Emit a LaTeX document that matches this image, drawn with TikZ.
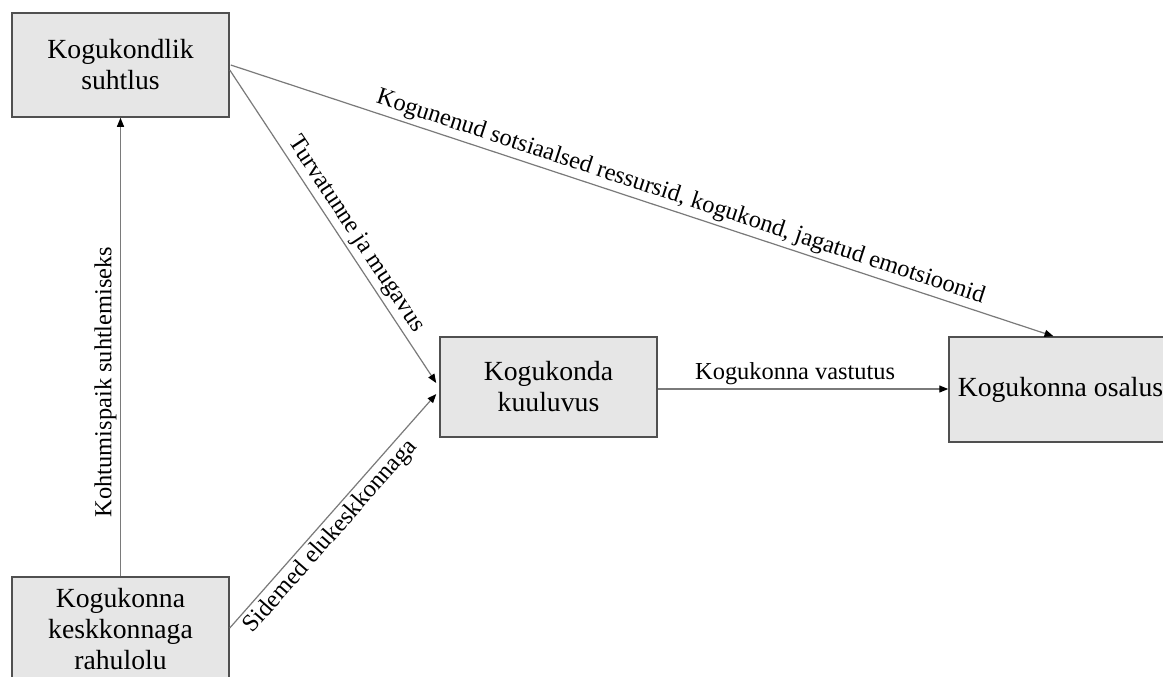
\documentclass[tikz,border=0pt]{standalone}
\usepackage{fontspec}
\setmainfont{Liberation Serif}
\usetikzlibrary{arrows.meta,calc}
\definecolor{boxfill}{HTML}{E6E6E6}
\definecolor{boxline}{HTML}{505050}
\definecolor{conn}{HTML}{7A7A7A}
\tikzset{
  box/.style={draw=boxline, line width=1.5pt, fill=boxfill, align=center,
    font=\fontsize{27.7}{31}\selectfont, inner sep=0pt},
  conarrow/.style={draw=conn, line width=1.2pt,
    -{Triangle[length=9pt,width=7pt,color=black]}},
  lbl/.style={font=\fontsize{24.4}{28}\selectfont, sloped, text=black}
}
\begin{document}
\begin{tikzpicture}[x=1pt,y=-1pt]
\clip (0,0) rectangle (1163,677);
\fill[white] (0,0) rectangle (1163,677);
% boxes
\node[box, minimum width=217pt, minimum height=104pt] (A) at (120.5,65) {Kogukondlik\\suhtlus};
\node[box, minimum width=217pt, minimum height=100pt] (B) at (548.5,387) {Kogukonda\\kuuluvus};
\node[box, minimum width=223pt, minimum height=105pt] (C) at (1060.5,389.5) {Kogukonna osalus};
\node[box, minimum width=217pt, minimum height=104pt] (D) at (120.5,629) {Kogukonna\\keskkonnaga\\rahulolu};
% connectors
\draw[conarrow] (D.north) -- node[lbl, above, pos=0.424] {Kohtumispaik suhtlemiseks} (A.south);
\draw[conarrow] ($(A.east)+(0,5)$) -- node[lbl, above, pos=0.551] {Turvatunne ja mugavus} ($(B.west)+(-3,-4)$);
\draw[conarrow] ($(D.east)+(0,-1)$) -- node[lbl, below, pos=0.434] {Sidemed elukeskkonnaga} ($(B.west)+(-3,7)$);
\draw[conarrow] ($(B.east)+(0,2)$) -- node[lbl, above, pos=0.473] {Kogukonna vastutus} ($(C.west)+(0,-0.5)$);
\draw[conarrow] ($(A.east)+(1,0)$) -- node[lbl, above, pos=0.541] {Kogunenud sotsiaalsed ressursid, kogukond, jagatud emotsioonid} ($(C.north)+(-7,0)$);
\end{tikzpicture}
\end{document}
